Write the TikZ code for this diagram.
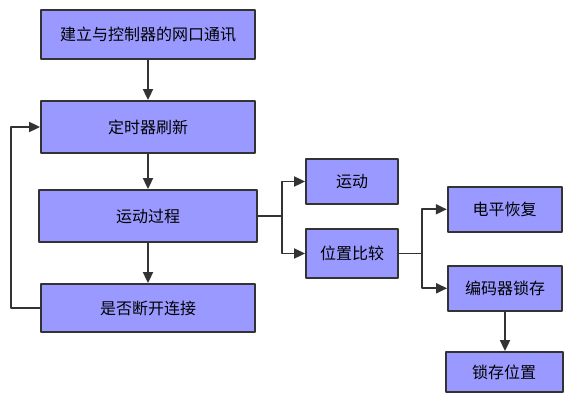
\documentclass[tikz,border=0pt]{standalone}
\usepackage{fontspec}
\newfontfamily\cjk{Noto Sans CJK SC}
\usetikzlibrary{arrows.meta}
\definecolor{boxfill}{HTML}{9999FF}
\definecolor{boxline}{HTML}{333333}
\tikzset{
  stepnode/.style={draw=boxline,fill=boxfill,line width=1.8bp,inner sep=0pt,font=\cjk\fontsize{16bp}{18bp}\selectfont},
  link/.style={boxline,line width=1.8bp},
}
\begin{document}
\begin{tikzpicture}[>={Triangle[length=11bp,width=10bp]},line join=bevel,]
%%
\useasboundingbox (0bp,0bp) rectangle (575bp,404bp);
\node (node_conn) at (148.0bp,369.5bp) [stepnode,minimum width=214bp,minimum height=49bp] {建立与控制器的网口通讯};
  \node (node_timer) at (148.0bp,277.0bp) [stepnode,minimum width=214bp,minimum height=52bp] {定时器刷新};
  \node (node_proc) at (148.0bp,188.0bp) [stepnode,minimum width=218bp,minimum height=52bp] {运动过程};
  \node (node_check) at (148.0bp,96.0bp) [stepnode,minimum width=214bp,minimum height=48bp] {是否断开连接};
  \node (node_move) at (352.0bp,222.5bp) [stepnode,minimum width=92bp,minimum height=45bp] {运动};
  \node (node_cmp) at (352.0bp,150.5bp) [stepnode,minimum width=92bp,minimum height=49bp] {位置比较};
  \node (node_level) at (504.7bp,194.7bp) [stepnode,minimum width=114bp,minimum height=45bp] {电平恢复};
  \node (node_enc) at (505.0bp,115.7bp) [stepnode,minimum width=114bp,minimum height=45bp] {编码器锁存};
  \node (node_latch) at (504.2bp,32.0bp) [stepnode,minimum width=117bp,minimum height=40bp] {锁存位置};
%
  \coordinate (split_1) at (281.7bp,188.0bp);
  \coordinate (split_2) at (422.3bp,150.5bp);
  \coordinate (loop_1) at (11.0bp,96.0bp);
%
  \draw [link,->] (node_conn) -- (node_timer);
  \draw [link,->] (node_timer) -- (node_proc);
  \draw [link,->] (node_proc) -- (node_check);
  \draw [link,->] (node_check.west) -- (loop_1) |- (node_timer.west);
  \draw [link] (node_proc.east) -- (split_1);
  \draw [link,->] (split_1) |- (node_move.west);
  \draw [link,->] (split_1) |- (node_cmp.west);
  \draw [link] (node_cmp.east) -- (split_2);
  \draw [link,->] (split_2) |- (node_level.west);
  \draw [link,->] (split_2) |- (node_enc.west);
  \draw [link,->] (node_enc.south) -- (node_enc.south |- node_latch.north);
%
\end{tikzpicture}
\end{document}
